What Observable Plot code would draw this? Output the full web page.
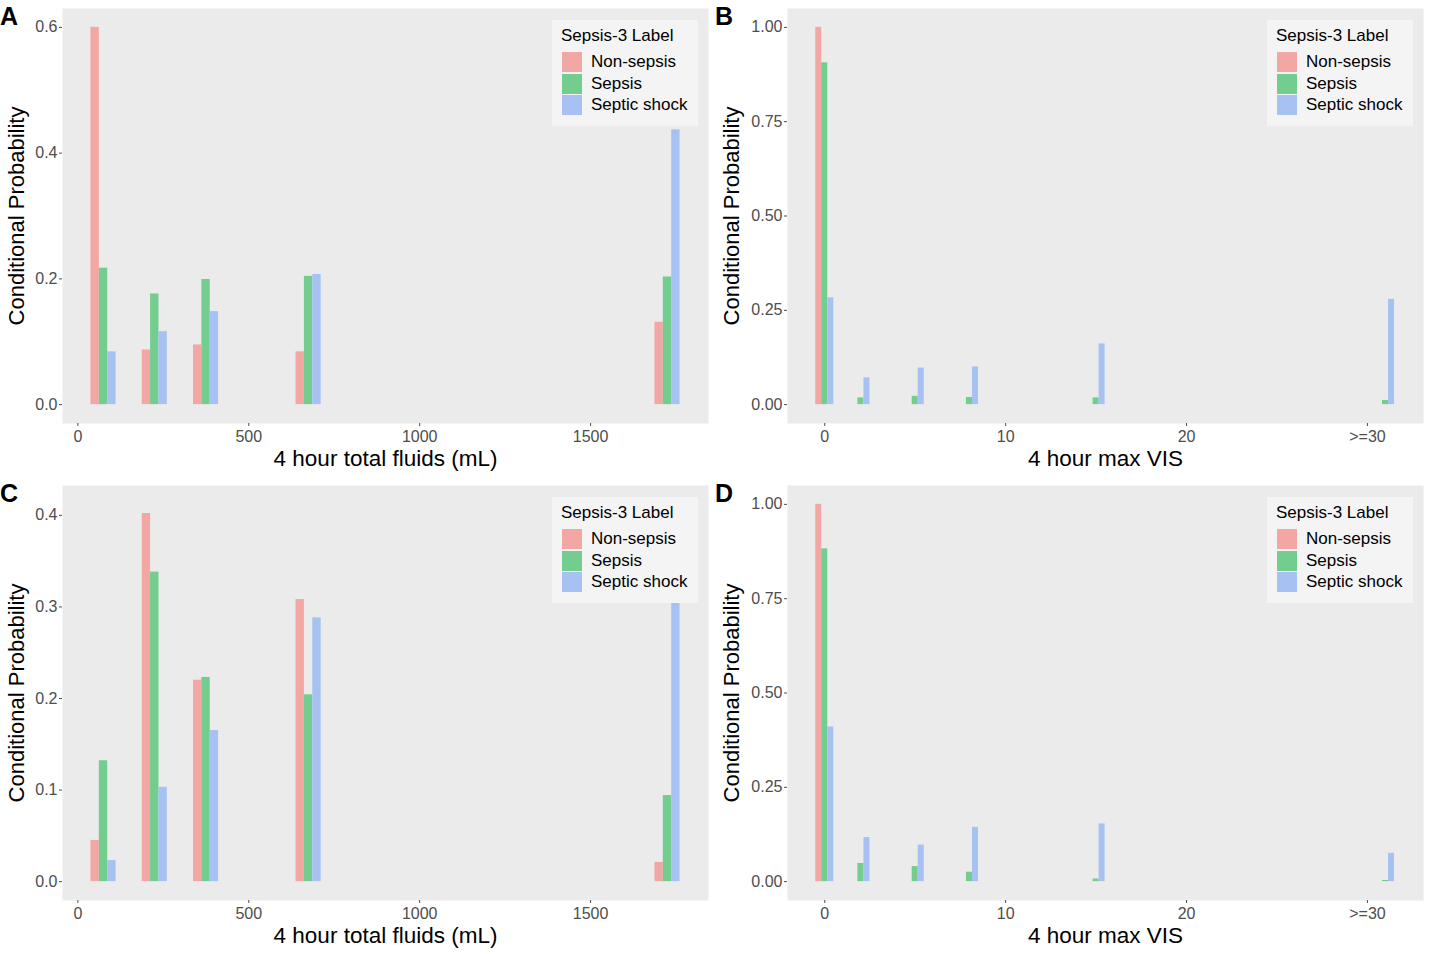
<!DOCTYPE html>
<html>
<head>
<meta charset="utf-8">
<script src="https://cdn.jsdelivr.net/npm/d3@7"></script>
<script src="https://cdn.jsdelivr.net/npm/@observablehq/plot@0.6"></script>
<style>
  html, body { margin: 0; padding: 0; background: #fff; }
  #wrap { position: relative; width: 1431px; height: 954px; font-family: "Liberation Sans", Arial, sans-serif; }
  .panel { position: absolute; width: 715px; height: 477px; }
  .panel svg { position: absolute; left: 0; top: 0; }
  .letter { position: absolute; left: 0; top: 2px; font-size: 25px; font-weight: bold; color: #000; }
  .legend { position: absolute; left: 552px; top: 20px; width: 146px; height: 106px; background: #F4F4F4; }
  .legend .ttl { position: absolute; left: 9px; top: 6px; font-size: 17px; color: #000; }
  .legend .key { position: absolute; left: 10px; width: 20px; height: 20px; }
  .legend .lab { position: absolute; left: 39px; font-size: 17px; color: #000; line-height: 20px; }
</style>
</head>
<body>
<div id="wrap"></div>
<script>
// ---- data ----
const seriesNames = ["Non-sepsis", "Sepsis", "Septic shock"];
const seriesColors = ["#F2A7A4", "#72CD8E", "#A7C2F2"];

const fluidBins = [75, 225, 375, 675, 1725];
const fluidTicks = [0, 500, 1000, 1500];

const visBins = [0, 2, 5, 8, 15, 31];
const visTicks = [0, 10, 20, 30];
const visTickLabels = ["0", "10", "20", ">=30"];

// Panel A: 4 hour total fluids
const aNonSepsis = [0.600, 0.087, 0.095, 0.084, 0.131];
const aSepsis    = [0.217, 0.176, 0.199, 0.204, 0.203];
const aShock     = [0.084, 0.116, 0.148, 0.207, 0.437];

// Panel B: 4 hour max VIS
const bNonSepsis = [1.000, 0.000, 0.000, 0.000, 0.000, 0.000];
const bSepsis    = [0.906, 0.018, 0.022, 0.019, 0.018, 0.011];
const bShock     = [0.283, 0.071, 0.097, 0.100, 0.161, 0.279];

// Panel C: 4 hour total fluids
const cNonSepsis = [0.045, 0.402, 0.220, 0.308, 0.021];
const cSepsis    = [0.132, 0.338, 0.223, 0.204, 0.094];
const cShock     = [0.023, 0.103, 0.165, 0.288, 0.412];

// Panel D: 4 hour max VIS
const dNonSepsis = [1.000, 0.000, 0.000, 0.000, 0.000, 0.000];
const dSepsis    = [0.882, 0.048, 0.040, 0.025, 0.007, 0.003];
const dShock     = [0.410, 0.117, 0.097, 0.144, 0.153, 0.075];

// ---- build ----
function toRows(bins, arrs) {
  const rows = [];
  arrs.forEach((arr, si) => arr.forEach((v, i) => rows.push({bin: bins[i], s: si, value: v})));
  return rows;
}

const wrap = document.getElementById("wrap");

function makePanel(opts) {
  const {left, top, letter, rows, barW, xDomain, xTicks, xTickFormat, yDomain, yTicks, yFormat, xTitle, marginLeft} = opts;
  const div = document.createElement("div");
  div.className = "panel";
  div.style.left = left + "px";
  div.style.top = top + "px";

  const plot = Plot.plot({
    width: 715, height: 477,
    marginLeft: marginLeft, marginRight: 7, marginTop: 8, marginBottom: 54,
    style: {fontFamily: "'Liberation Sans', Arial, sans-serif", fontSize: "16px", background: "transparent", overflow: "visible"},
    x: {domain: xDomain},
    y: {domain: yDomain},
    marks: [
      Plot.frame({fill: "#EBEBEB", stroke: "none"}),
      Plot.rect(rows, {
        x1: d => d.bin + (d.s - 1.5) * barW,
        x2: d => d.bin + (d.s - 0.5) * barW,
        y1: 0,
        y2: "value",
        fill: d => seriesColors[d.s]
      }),
      Plot.axisX({ticks: xTicks, tickFormat: xTickFormat, tickSize: 3, tickPadding: 4, color: "#4D4D4D", label: null, fontSize: 16}),
      Plot.axisY({ticks: yTicks, tickFormat: yFormat, tickSize: 3, tickPadding: 2, color: "#4D4D4D", label: null, fontSize: 16}),
      Plot.text([xTitle], {frameAnchor: "bottom", lineAnchor: "middle", dy: 35, fontSize: 22.5, fill: "#000", text: d => d}),
      Plot.text(["Conditional Probability"], {frameAnchor: "left", dx: 16 - marginLeft, rotate: -90, textAnchor: "middle", fontSize: 22, fill: "#000", text: d => d})
    ]
  });
  div.appendChild(plot);

  const let_ = document.createElement("div");
  let_.className = "letter";
  let_.textContent = letter;
  div.appendChild(let_);

  const lg = document.createElement("div");
  lg.className = "legend";
  let html = '<div class="ttl">Sepsis-3 Label</div>';
  seriesNames.forEach((n, i) => {
    const y = 32 + i * 21.5;
    html += `<div class="key" style="top:${y}px;background:${seriesColors[i]}"></div>`;
    html += `<div class="lab" style="top:${y}px">${n}</div>`;
  });
  lg.innerHTML = html;
  div.appendChild(lg);

  wrap.appendChild(div);
}

const fluidX = [-45, 1845];
const visX = [-2.06, 33.1];

makePanel({left: 0, top: 0, letter: "A", rows: toRows(fluidBins, [aNonSepsis, aSepsis, aShock]),
  barW: 24.5, xDomain: fluidX, xTicks: fluidTicks, xTickFormat: d => String(d),
  yDomain: [-0.03, 0.63], yTicks: [0, 0.2, 0.4, 0.6], yFormat: ".1f",
  xTitle: "4 hour total fluids (mL)", marginLeft: 62});

makePanel({left: 715, top: 0, letter: "B", rows: toRows(visBins, [bNonSepsis, bSepsis, bShock]),
  barW: 1/3, xDomain: visX, xTicks: visTicks, xTickFormat: d => visTickLabels[visTicks.indexOf(d)],
  yDomain: [-0.05, 1.05], yTicks: [0, 0.25, 0.5, 0.75, 1], yFormat: ".2f",
  xTitle: "4 hour max VIS", marginLeft: 72});

makePanel({left: 0, top: 477, letter: "C", rows: toRows(fluidBins, [cNonSepsis, cSepsis, cShock]),
  barW: 24.5, xDomain: fluidX, xTicks: fluidTicks, xTickFormat: d => String(d),
  yDomain: [-0.0206, 0.4326], yTicks: [0, 0.1, 0.2, 0.3, 0.4], yFormat: ".1f",
  xTitle: "4 hour total fluids (mL)", marginLeft: 62});

makePanel({left: 715, top: 477, letter: "D", rows: toRows(visBins, [dNonSepsis, dSepsis, dShock]),
  barW: 1/3, xDomain: visX, xTicks: visTicks, xTickFormat: d => visTickLabels[visTicks.indexOf(d)],
  yDomain: [-0.05, 1.05], yTicks: [0, 0.25, 0.5, 0.75, 1], yFormat: ".2f",
  xTitle: "4 hour max VIS", marginLeft: 72});
</script>
</body>
</html>
